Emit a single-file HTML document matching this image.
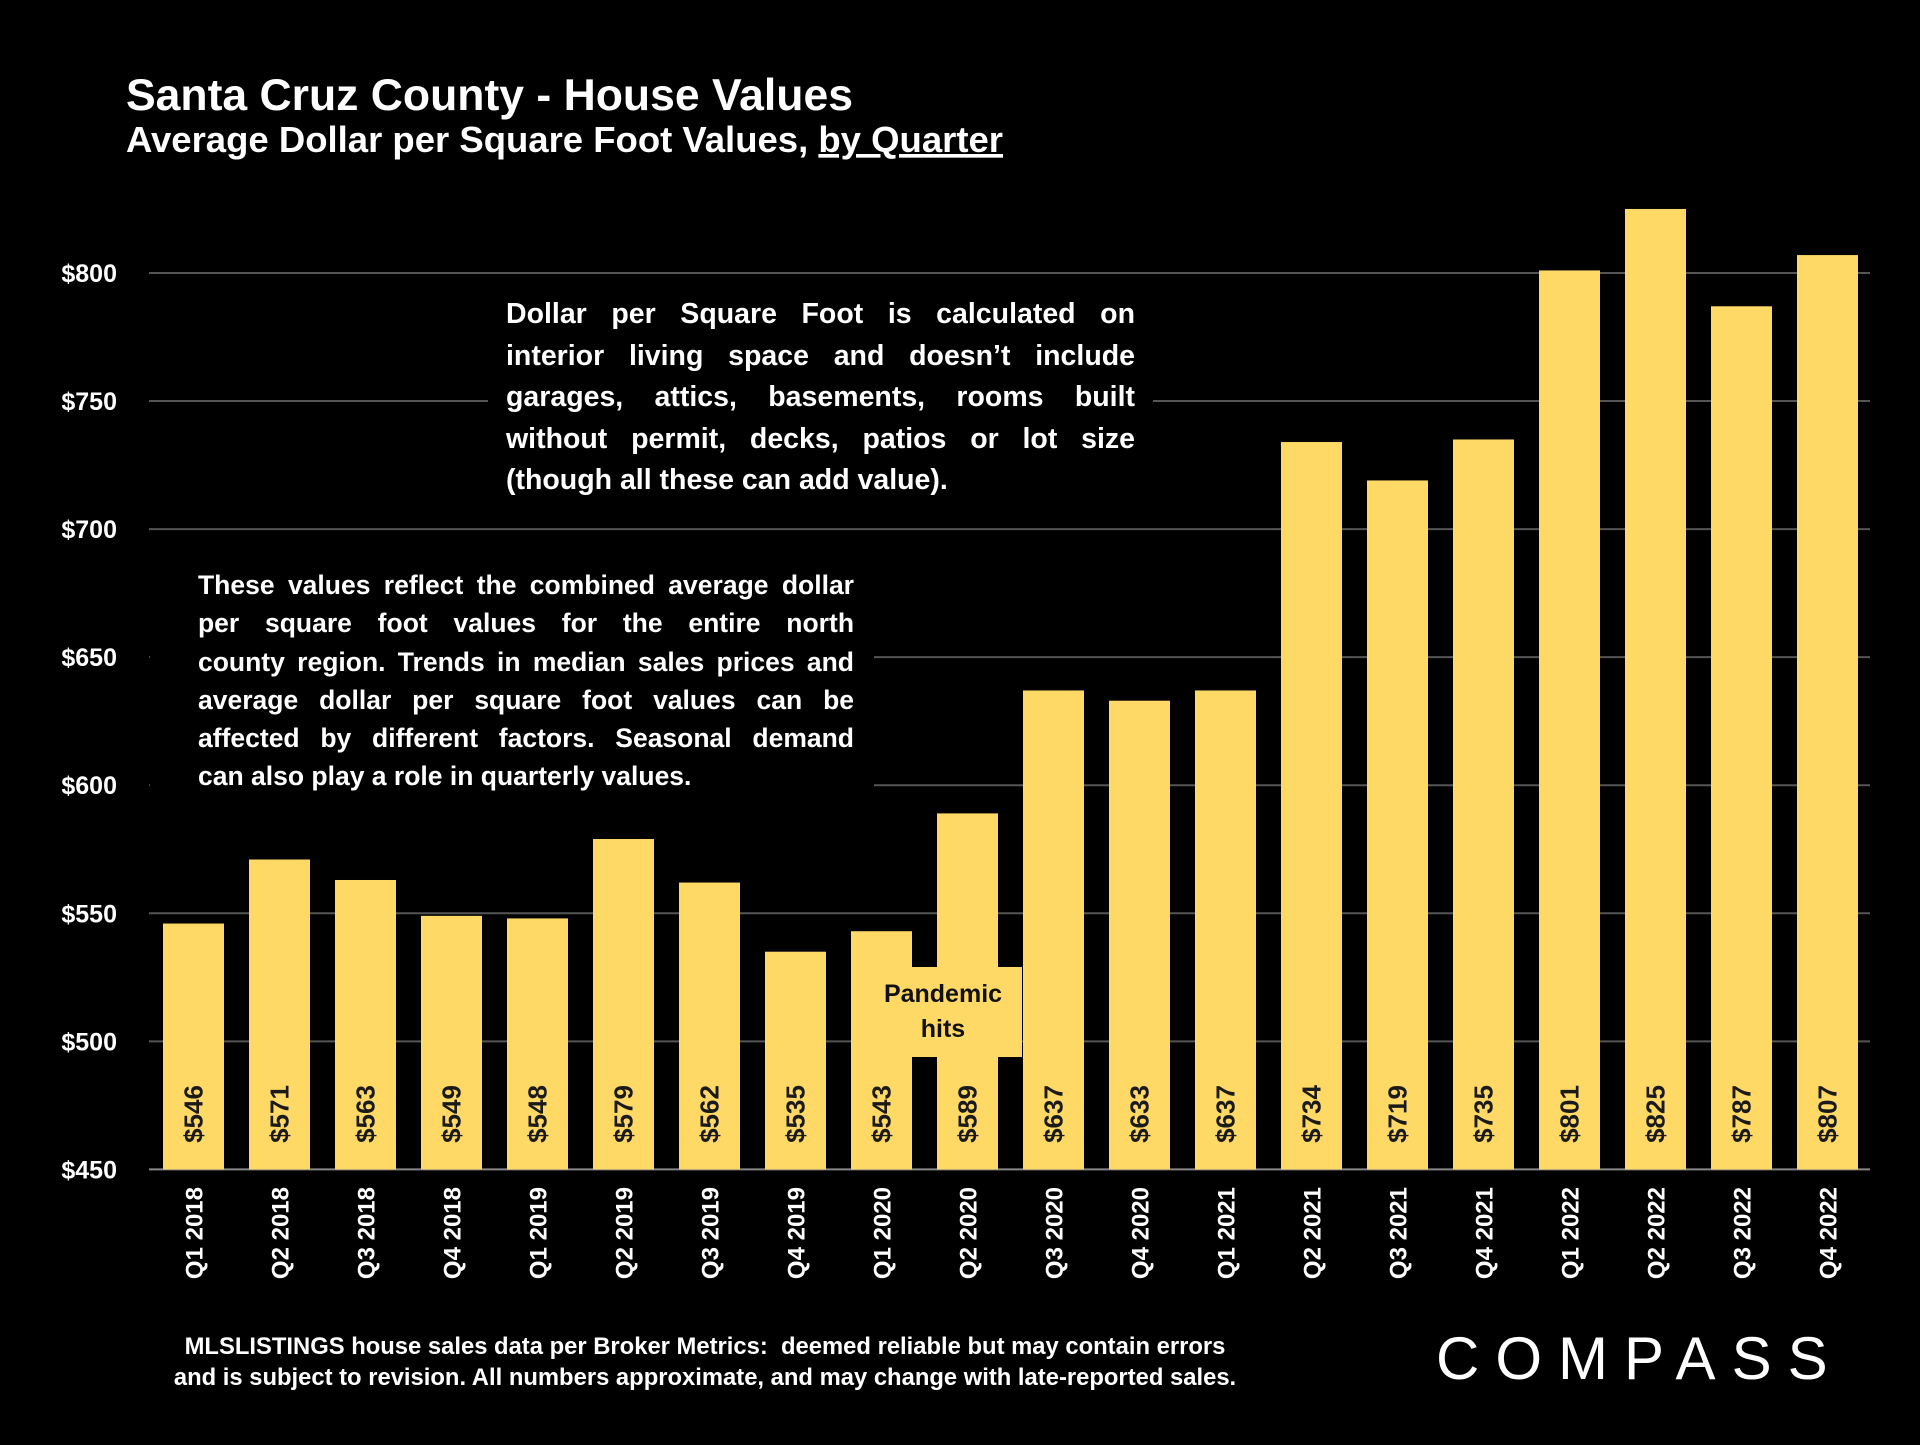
<!DOCTYPE html>
<html><head><meta charset="utf-8"><style>
body{margin:0;background:#000;width:1920px;height:1440px;overflow:hidden;font-family:"Liberation Sans",sans-serif;}
svg text{font-family:"Liberation Sans",sans-serif;font-weight:bold;}
.note{position:absolute;color:#fff;font-weight:bold;background:#000;}
.note span{display:block;text-align:justify;text-align-last:justify;white-space:nowrap;}
.note span.last{text-align-last:left;}
</style></head><body>
<svg id="chart" width="1920" height="1440" xmlns="http://www.w3.org/2000/svg">
<text x="126" y="110" fill="#fff" font-size="44.5">Santa Cruz County - House Values</text>
<text x="126" y="152" fill="#fff" font-size="36.5">Average Dollar per Square Foot Values, <tspan text-decoration="underline">by Quarter</tspan></text>
<g id="grid"></g><g id="bars"></g><g id="ylabels"></g><g id="xlabels"></g>
</svg>
<div class="note" style="left:488px;top:294px;width:629px;padding:0 18px;font-size:28.5px;line-height:41.6px;"><span>Dollar per Square Foot is calculated on</span><span>interior living space and doesn’t include</span><span>garages, attics, basements, rooms built</span><span>without permit, decks, patios or lot size</span><span class="last">(though all these can add value).</span></div>
<div class="note" style="left:150px;top:566px;width:656px;padding:0 20px 4px 48px;font-size:26.5px;line-height:38.3px;"><span>These values reflect the combined average dollar</span><span>per square foot values for the entire north</span><span>county region. Trends in median sales prices and</span><span>average dollar per square foot values can be</span><span>affected by different factors. Seasonal demand</span><span class="last">can also play a role in quarterly values.</span></div>
<div style="position:absolute;left:864px;top:967px;width:158px;height:90px;background:#FFD966;color:#111;font-weight:bold;font-size:25px;line-height:35px;text-align:center;padding-top:10px;box-sizing:border-box;">Pandemic<br>hits</div>
<div style="position:absolute;left:100px;top:1331px;width:1210px;color:#fff;font-weight:bold;font-size:23.8px;line-height:31px;text-align:center;">MLSLISTINGS house sales data per Broker Metrics:&nbsp; deemed reliable but may contain errors<br>and is subject to revision. All numbers approximate, and may change with late-reported sales.</div>
<div style="position:absolute;left:1436px;top:1324px;color:#fff;font-size:60px;letter-spacing:16px;font-family:'Liberation Sans',sans-serif;white-space:nowrap;">COMPASS</div>
<script>
const categories=["Q1 2018","Q2 2018","Q3 2018","Q4 2018","Q1 2019","Q2 2019","Q3 2019","Q4 2019","Q1 2020","Q2 2020","Q3 2020","Q4 2020","Q1 2021","Q2 2021","Q3 2021","Q4 2021","Q1 2022","Q2 2022","Q3 2022","Q4 2022"];
const values=[546,571,563,549,548,579,562,535,543,589,637,633,637,734,719,735,801,825,787,807];
const yTicks=[450,500,550,600,650,700,750,800];
const NS="http://www.w3.org/2000/svg";
const y0=1169.4,yPer=(1169.4-273)/350;
function yScale(v){return y0-(v-450)*yPer;}
function xScale(i){return 193.5+i*86;}
const bw=61;
function mk(tag,attrs,parent){const e=document.createElementNS(NS,tag);for(const k in attrs)e.setAttribute(k,attrs[k]);parent.appendChild(e);return e;}
const grid=document.getElementById('grid'),bars=document.getElementById('bars'),yl=document.getElementById('ylabels'),xl=document.getElementById('xlabels');
yTicks.forEach(t=>{
 const l=mk('line',{x1:149,x2:1870,y1:yScale(t),y2:yScale(t),stroke:t===450?'#888':'#555','stroke-width':2},grid);
 
 
 const tx=mk('text',{x:117,y:yScale(t)+9,fill:'#fff','font-size':25,'text-anchor':'end'},yl);
 tx.textContent='$'+t;
 
 
});
values.forEach((v,i)=>{
 const cx=xScale(i);
 const r=mk('rect',{x:cx-bw/2,y:yScale(v),width:bw,height:y0-yScale(v),fill:'#FFD966'},bars);
 
 
 const vt=mk('text',{x:0,y:0,fill:'#1a1a1a','font-size':26,'text-anchor':'middle',transform:`translate(${cx+9},1114) rotate(-90)`},bars);
 vt.textContent='$'+v;
 
 
 const xt=mk('text',{x:0,y:0,fill:'#fff','font-size':24,'text-anchor':'end',transform:`translate(${cx+9},1187) rotate(-90)`},xl);
 xt.textContent=categories[i];
 
 
});
</script>
</body></html>
